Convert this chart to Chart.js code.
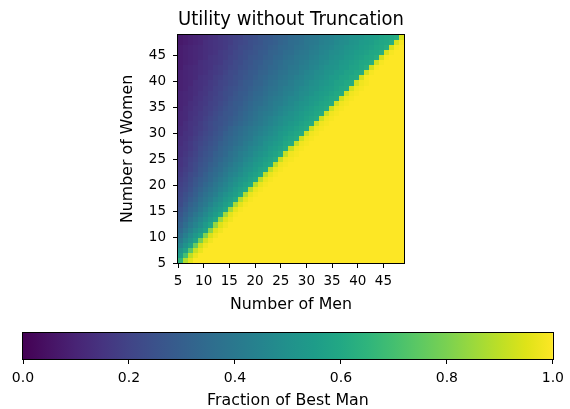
<!DOCTYPE html>
<html>
<head>
<meta charset="utf-8">
<script src="https://cdn.jsdelivr.net/npm/chart.js@4.4.1/dist/chart.umd.min.js"></script>
<style>
  html, body { margin: 0; padding: 0; background: #fff; }
  #wrap { position: relative; width: 570px; height: 409px; }
  #heat { position: absolute; left: 0; top: 0; }
  #bar { position: absolute; left: 0; top: 320px; }
</style>
</head>
<body>
<div id="wrap">
  <canvas id="heat" width="570" height="320"></canvas>
  <canvas id="bar" width="570" height="89"></canvas>
</div>
<script>
// axes of the heatmap
const menCounts = [5,6,7,8,9,10,11,12,13,14,15,16,17,18,19,20,21,22,23,24,25,26,27,28,29,30,31,32,33,34,35,36,37,38,39,40,41,42,43,44,45,46,47,48,49];
const womenCounts = [5,6,7,8,9,10,11,12,13,14,15,16,17,18,19,20,21,22,23,24,25,26,27,28,29,30,31,32,33,34,35,36,37,38,39,40,41,42,43,44,45,46,47,48,49];
const menTicks = [5,10,15,20,25,30,35,40,45];
const womenTicks = [5,10,15,20,25,30,35,40,45];
const colorbarTicks = [0, 0.2, 0.4, 0.6, 0.8, 1.0];

// fraction of best man, one row per number of women (5 at the bottom), columns = men 5..49
const fractionByWomen = [
  [.65,.88,.96, 1,1,1,1,1,1,1,1,1,1, 1,1,1,1,1,1,1,1,1,1, 1,1,1,1,1,1,1,1,1,1, 1,1,1,1,1,1,1,1,1,1, 1,1],
  [.55,.70,.90,.97, 1,1,1,1,1,1,1,1,1,1, 1,1,1,1,1,1,1,1,1,1, 1,1,1,1,1,1,1,1,1,1, 1,1,1,1,1,1,1,1,1,1, 1],
  [.51,.57,.74,.91,.97, 1,1,1,1,1,1,1,1,1,1, 1,1,1,1,1,1,1,1,1,1, 1,1,1,1,1,1,1,1,1,1, 1,1,1,1,1,1,1,1,1,1],
  [.45,.51,.57,.77,.93,.98, 1,1,1,1,1,1,1,1,1,1, 1,1,1,1,1,1,1,1,1,1, 1,1,1,1,1,1,1,1,1,1, 1,1,1,1,1,1,1,1,1],
  [.41,.47,.52,.58,.79,.93,.98, 1,1,1,1,1,1,1,1,1,1, 1,1,1,1,1,1,1,1,1,1, 1,1,1,1,1,1,1,1,1,1, 1,1,1,1,1,1,1,1],
  [.37,.43,.48,.53,.58,.81,.94,.98, 1,1,1,1,1,1,1,1,1,1, 1,1,1,1,1,1,1,1,1,1, 1,1,1,1,1,1,1,1,1,1, 1,1,1,1,1,1,1],
  [.34,.39,.44,.49,.53,.58,.82,.95,.98, 1,1,1,1,1,1,1,1,1,1, 1,1,1,1,1,1,1,1,1,1, 1,1,1,1,1,1,1,1,1,1, 1,1,1,1,1,1],
  [.31,.36,.41,.45,.49,.54,.59,.84,.95,.98, 1,1,1,1,1,1,1,1,1,1, 1,1,1,1,1,1,1,1,1,1, 1,1,1,1,1,1,1,1,1,1, 1,1,1,1,1],
  [.29,.33,.38,.42,.46,.50,.55,.59,.85,.95,.98, 1,1,1,1,1,1,1,1,1,1, 1,1,1,1,1,1,1,1,1,1, 1,1,1,1,1,1,1,1,1,1, 1,1,1,1],
  [.27,.31,.35,.39,.43,.47,.51,.55,.59,.86,.96,.99, 1,1,1,1,1,1,1,1,1,1, 1,1,1,1,1,1,1,1,1,1, 1,1,1,1,1,1,1,1,1,1, 1,1,1],
  [.25,.29,.33,.36,.40,.44,.48,.52,.55,.59,.86,.96,.99, 1,1,1,1,1,1,1,1,1,1, 1,1,1,1,1,1,1,1,1,1, 1,1,1,1,1,1,1,1,1,1, 1,1],
  [.23,.27,.31,.34,.38,.41,.45,.49,.52,.56,.59,.87,.96,.99, 1,1,1,1,1,1,1,1,1,1, 1,1,1,1,1,1,1,1,1,1, 1,1,1,1,1,1,1,1,1,1, 1],
  [.22,.25,.29,.32,.36,.39,.42,.46,.49,.53,.56,.60,.88,.96,.99, 1,1,1,1,1,1,1,1,1,1, 1,1,1,1,1,1,1,1,1,1, 1,1,1,1,1,1,1,1,1,1],
  [.21,.24,.27,.30,.34,.37,.40,.43,.47,.50,.53,.56,.60,.88,.97,.99, 1,1,1,1,1,1,1,1,1,1, 1,1,1,1,1,1,1,1,1,1, 1,1,1,1,1,1,1,1,1],
  [.20,.22,.25,.29,.32,.35,.38,.41,.44,.47,.50,.54,.57,.60,.89,.97,.99, 1,1,1,1,1,1,1,1,1,1, 1,1,1,1,1,1,1,1,1,1, 1,1,1,1,1,1,1,1],
  [.19,.21,.24,.27,.30,.33,.36,.39,.42,.45,.48,.51,.54,.57,.60,.89,.97,.99, 1,1,1,1,1,1,1,1,1,1, 1,1,1,1,1,1,1,1,1,1, 1,1,1,1,1,1,1],
  [.18,.20,.23,.26,.29,.31,.34,.37,.40,.43,.46,.49,.52,.54,.57,.60,.89,.97,.99, 1,1,1,1,1,1,1,1,1,1, 1,1,1,1,1,1,1,1,1,1, 1,1,1,1,1,1],
  [.17,.19,.22,.24,.27,.30,.33,.35,.38,.41,.44,.46,.49,.52,.55,.57,.60,.90,.97,.99, 1,1,1,1,1,1,1,1,1,1, 1,1,1,1,1,1,1,1,1,1, 1,1,1,1,1],
  [.16,.18,.20,.23,.26,.28,.31,.34,.36,.39,.42,.44,.47,.50,.52,.55,.58,.60,.90,.97,.99, 1,1,1,1,1,1,1,1,1,1, 1,1,1,1,1,1,1,1,1,1, 1,1,1,1],
  [.15,.17,.20,.22,.25,.27,.30,.32,.35,.37,.40,.43,.45,.48,.50,.53,.55,.58,.60,.90,.98,.99, 1,1,1,1,1,1,1,1,1,1, 1,1,1,1,1,1,1,1,1,1, 1,1,1],
  [.15,.17,.19,.21,.24,.26,.28,.31,.33,.36,.38,.41,.43,.46,.48,.51,.53,.56,.58,.61,.91,.98,.99, 1,1,1,1,1,1,1,1,1,1, 1,1,1,1,1,1,1,1,1,1, 1,1],
  [.14,.16,.18,.20,.23,.25,.27,.30,.32,.34,.37,.39,.42,.44,.46,.49,.51,.53,.56,.58,.61,.91,.98,.99, 1,1,1,1,1,1,1,1,1,1, 1,1,1,1,1,1,1,1,1,1, 1],
  [.14,.15,.17,.19,.22,.24,.26,.28,.31,.33,.35,.38,.40,.42,.45,.47,.49,.51,.54,.56,.58,.61,.91,.98,.99, 1,1,1,1,1,1,1,1,1,1, 1,1,1,1,1,1,1,1,1,1],
  [.13,.15,.17,.19,.21,.23,.25,.27,.30,.32,.34,.36,.38,.41,.43,.45,.47,.50,.52,.54,.56,.59,.61,.91,.98,.99, 1,1,1,1,1,1,1,1,1,1, 1,1,1,1,1,1,1,1,1],
  [.13,.14,.16,.18,.20,.22,.24,.26,.28,.31,.33,.35,.37,.39,.41,.44,.46,.48,.50,.52,.54,.57,.59,.61,.92,.98,.99, 1,1,1,1,1,1,1,1,1,1, 1,1,1,1,1,1,1,1],
  [.12,.14,.15,.17,.19,.21,.23,.25,.27,.30,.32,.34,.36,.38,.40,.42,.44,.46,.48,.50,.53,.55,.57,.59,.61,.92,.98,.99, 1,1,1,1,1,1,1,1,1,1, 1,1,1,1,1,1,1],
  [.12,.13,.15,.17,.18,.20,.22,.24,.26,.28,.31,.33,.35,.37,.39,.41,.43,.45,.47,.49,.51,.53,.55,.57,.59,.61,.92,.98,.99, 1,1,1,1,1,1,1,1,1,1, 1,1,1,1,1,1],
  [.11,.13,.15,.16,.18,.20,.22,.24,.25,.27,.29,.31,.33,.35,.37,.39,.41,.43,.45,.47,.49,.51,.53,.55,.57,.59,.61,.92,.98,.99, 1,1,1,1,1,1,1,1,1,1, 1,1,1,1,1],
  [.11,.12,.14,.16,.17,.19,.21,.23,.25,.26,.28,.30,.32,.34,.36,.38,.40,.42,.44,.46,.48,.50,.51,.53,.55,.57,.59,.61,.92,.98,.99, 1,1,1,1,1,1,1,1,1,1, 1,1,1,1],
  [.11,.12,.14,.15,.17,.18,.20,.22,.24,.26,.27,.29,.31,.33,.35,.37,.39,.41,.42,.44,.46,.48,.50,.52,.54,.56,.57,.59,.61,.92,.98,.99, 1,1,1,1,1,1,1,1,1,1, 1,1,1],
  [.10,.12,.13,.15,.16,.18,.19,.21,.23,.25,.27,.28,.30,.32,.34,.36,.38,.39,.41,.43,.45,.47,.48,.50,.52,.54,.56,.58,.59,.61,.92,.98,.99, 1,1,1,1,1,1,1,1,1,1, 1,1],
  [.10,.11,.13,.14,.16,.17,.19,.20,.22,.24,.26,.28,.29,.31,.33,.35,.36,.38,.40,.42,.43,.45,.47,.49,.51,.52,.54,.56,.58,.59,.61,.93,.98,.99, 1,1,1,1,1,1,1,1,1,1, 1],
  [.10,.11,.12,.14,.15,.17,.18,.20,.21,.23,.25,.27,.28,.30,.32,.34,.35,.37,.39,.41,.42,.44,.46,.47,.49,.51,.53,.54,.56,.58,.60,.61,.93,.98,.99, 1,1,1,1,1,1,1,1,1,1],
  [.10,.11,.12,.13,.15,.16,.18,.19,.21,.23,.24,.26,.28,.29,.31,.33,.34,.36,.38,.39,.41,.43,.44,.46,.48,.49,.51,.53,.55,.56,.58,.60,.61,.93,.98,.99, 1,1,1,1,1,1,1,1,1],
  [.09,.10,.12,.13,.14,.16,.17,.19,.20,.22,.24,.25,.27,.28,.30,.32,.33,.35,.37,.38,.40,.42,.43,.45,.47,.48,.50,.51,.53,.55,.56,.58,.60,.61,.93,.98,.99, 1,1,1,1,1,1,1,1],
  [.09,.10,.11,.13,.14,.15,.17,.18,.20,.21,.23,.24,.26,.28,.29,.31,.32,.34,.36,.37,.39,.40,.42,.44,.45,.47,.49,.50,.52,.53,.55,.57,.58,.60,.61,.93,.98,.99, 1,1,1,1,1,1,1],
  [.09,.10,.11,.12,.14,.15,.16,.18,.19,.21,.22,.24,.25,.27,.28,.30,.32,.33,.35,.36,.38,.39,.41,.43,.44,.46,.47,.49,.50,.52,.54,.55,.57,.58,.60,.61,.93,.99,1, 1,1,1,1,1,1],
  [.09,.10,.11,.12,.13,.14,.16,.17,.18,.20,.22,.23,.25,.26,.28,.29,.31,.32,.34,.35,.37,.38,.40,.41,.43,.45,.46,.48,.49,.51,.52,.54,.55,.57,.58,.60,.61,.93,.99,1, 1,1,1,1,1],
  [.08,.10,.11,.12,.13,.14,.15,.17,.18,.19,.21,.22,.24,.25,.27,.28,.30,.31,.33,.34,.36,.37,.39,.40,.42,.43,.45,.46,.48,.50,.51,.52,.54,.55,.57,.58,.60,.62,.93,.99,1, 1,1,1,1],
  [.08,.09,.10,.11,.13,.14,.15,.16,.17,.19,.20,.22,.23,.25,.26,.28,.29,.31,.32,.34,.35,.37,.38,.39,.41,.42,.44,.45,.47,.48,.50,.51,.53,.54,.56,.57,.59,.60,.62,.93,.99,1, 1,1,1],
  [.08,.09,.10,.11,.12,.13,.15,.16,.17,.18,.20,.21,.23,.24,.26,.27,.28,.30,.31,.33,.34,.36,.37,.39,.40,.41,.43,.44,.46,.47,.49,.50,.51,.53,.54,.56,.57,.59,.60,.62,.93,.99,1, 1,1],
  [.08,.09,.10,.11,.12,.13,.14,.15,.17,.18,.19,.21,.22,.24,.25,.26,.28,.29,.31,.32,.33,.35,.36,.38,.39,.40,.42,.43,.45,.46,.48,.49,.50,.52,.53,.55,.56,.57,.59,.60,.62,.94,.99,1, 1],
  [.08,.09,.10,.11,.12,.13,.14,.15,.16,.17,.19,.20,.22,.23,.24,.26,.27,.28,.30,.31,.33,.34,.35,.37,.38,.39,.41,.42,.44,.45,.46,.48,.49,.51,.52,.53,.55,.56,.57,.59,.60,.62,.94,.99,1],
  [.07,.08,.09,.10,.11,.13,.14,.15,.16,.17,.18,.20,.21,.22,.24,.25,.26,.28,.29,.30,.32,.33,.35,.36,.37,.39,.40,.41,.43,.44,.45,.47,.48,.49,.51,.52,.54,.55,.56,.58,.59,.60,.62,.94,.99],
  [.07,.08,.09,.10,.11,.12,.13,.14,.16,.17,.18,.19,.20,.22,.23,.24,.26,.27,.28,.30,.31,.32,.34,.35,.36,.38,.39,.40,.42,.43,.44,.46,.47,.48,.50,.51,.52,.54,.55,.56,.58,.59,.60,.62,.94]
];

// viridis colour map, 21 stops from 0 to 1
const viridis = ['#440154','#471365','#482475','#463480','#414487','#3b528b','#355f8d','#2f6c8e','#2a788e','#25848e',
  '#21918c','#1e9c89','#22a884','#2fb47c','#44bf70','#5ec962','#7ad151','#9bd93c','#bddf26','#dfe318','#fde725'];

function hexRgb(h) {
  return [parseInt(h.slice(1, 3), 16), parseInt(h.slice(3, 5), 16), parseInt(h.slice(5, 7), 16)];
}
const viridisRgb = viridis.map(hexRgb);

function viridisColor(v) {
  const t = Math.max(0, Math.min(1, v)) * (viridis.length - 1);
  const i = Math.min(Math.floor(t), viridis.length - 2);
  const f = t - i;
  const a = viridisRgb[i], b = viridisRgb[i + 1];
  const c = a.map((x, k) => Math.round(x + (b[k] - x) * f));
  return 'rgb(' + c.join(',') + ')';
}

// image extent on both axes
const extentMin = 5, extentMax = 49;
const cellW = (extentMax - extentMin) / menCounts.length;
const cellH = (extentMax - extentMin) / womenCounts.length;

const cells = [];
womenCounts.forEach((w, j) => {
  menCounts.forEach((m, i) => {
    cells.push({ x: extentMin + (i + 0.5) * cellW, y: extentMin + (j + 0.5) * cellH, v: fractionByWomen[j][i] });
  });
});

Chart.defaults.font.family = 'DejaVu Sans';
Chart.defaults.color = '#000';

// draws each cell as a rectangle using the chart scales
const heatCells = {
  id: 'heatCells',
  beforeDatasetsDraw(chart) {
    const ctx = chart.ctx;
    const xs = chart.scales.x, ys = chart.scales.y;
    ctx.save();
    chart.data.datasets[0].data.forEach(p => {
      const x0 = Math.round(xs.getPixelForValue(p.x - cellW / 2));
      const x1 = Math.round(xs.getPixelForValue(p.x + cellW / 2));
      const y0 = Math.round(ys.getPixelForValue(p.y - cellH / 2));
      const y1 = Math.round(ys.getPixelForValue(p.y + cellH / 2));
      ctx.fillStyle = viridisColor(p.v);
      ctx.fillRect(x0, y1, x1 - x0, y0 - y1);
    });
    ctx.restore();
  }
};

const frame = {
  id: 'frame',
  afterDraw(chart) {
    const a = chart.chartArea, ctx = chart.ctx;
    ctx.save();
    ctx.strokeStyle = '#000';
    ctx.lineWidth = 1;
    ctx.strokeRect(Math.round(a.left) - 0.5, Math.round(a.top) - 0.5,
      Math.round(a.right) - Math.round(a.left) + 1, Math.round(a.bottom) - Math.round(a.top) + 1);
    ctx.restore();
  }
};

const tickGrid = { display: true, drawOnChartArea: false, drawTicks: true, tickLength: 5, color: '#000' };

new Chart(document.getElementById('heat'), {
  type: 'scatter',
  data: { datasets: [{ data: cells, pointRadius: 0, pointHoverRadius: 0 }] },
  options: {
    responsive: false,
    animation: false,
    devicePixelRatio: 1,
    layout: { padding: { left: 110, right: 166, top: 0, bottom: 0 } },
    plugins: {
      legend: { display: false },
      tooltip: { enabled: false },
      title: {
        display: true,
        text: 'Utility without Truncation',
        fullSize: false,
        color: '#000',
        font: { size: 19, weight: 'normal' },
        padding: { top: 9, bottom: 3 }
      }
    },
    scales: {
      x: {
        type: 'linear', min: extentMin, max: extentMax,
        afterBuildTicks: s => { s.ticks = menTicks.map(v => ({ value: v })); },
        afterFit: s => { s.height = 57; },
        ticks: { font: { size: 13.5 }, padding: 5, maxRotation: 0, autoSkip: false },
        grid: tickGrid,
        border: { display: false },
        title: { display: true, text: 'Number of Men', font: { size: 15.8 }, padding: { top: 0, bottom: 6 } }
      },
      y: {
        type: 'linear', min: extentMin, max: extentMax,
        afterBuildTicks: s => { s.ticks = womenTicks.map(v => ({ value: v })); },
        afterFit: s => { s.width = 68; },
        ticks: { font: { size: 13.5 }, padding: 7, autoSkip: false },
        grid: tickGrid,
        border: { display: false },
        title: { display: true, text: 'Number of Women', font: { size: 15.8 }, padding: { top: 8, bottom: 0 } }
      }
    }
  },
  plugins: [heatCells, frame]
});

// colour bar
const colorbarFill = {
  id: 'colorbarFill',
  beforeDatasetsDraw(chart) {
    const a = chart.chartArea, ctx = chart.ctx, xs = chart.scales.x;
    const g = ctx.createLinearGradient(xs.getPixelForValue(0), 0, xs.getPixelForValue(1), 0);
    viridis.forEach((c, i) => g.addColorStop(i / (viridis.length - 1), c));
    ctx.save();
    ctx.fillStyle = g;
    ctx.fillRect(a.left, a.top, a.right - a.left, a.bottom - a.top);
    ctx.restore();
  }
};

new Chart(document.getElementById('bar'), {
  type: 'scatter',
  data: { datasets: [{ data: [], pointRadius: 0 }] },
  options: {
    responsive: false,
    animation: false,
    devicePixelRatio: 1,
    layout: { padding: { left: 23, right: 11, top: 13, bottom: 0 } },
    plugins: { legend: { display: false }, tooltip: { enabled: false } },
    scales: {
      x: {
        type: 'linear', min: 0, max: 1,
        afterBuildTicks: s => { s.ticks = colorbarTicks.map(v => ({ value: v })); },
        afterFit: s => { s.height = 50; },
        ticks: { font: { size: 14 }, padding: 6, maxRotation: 0, autoSkip: false, callback: v => v.toFixed(1) },
        grid: tickGrid,
        border: { display: false },
        title: { display: true, text: 'Fraction of Best Man', font: { size: 15.8 }, padding: { top: 0, bottom: -1 } }
      },
      y: { display: false, min: 0, max: 1 }
    }
  },
  plugins: [colorbarFill, frame]
});
</script>
</body>
</html>
